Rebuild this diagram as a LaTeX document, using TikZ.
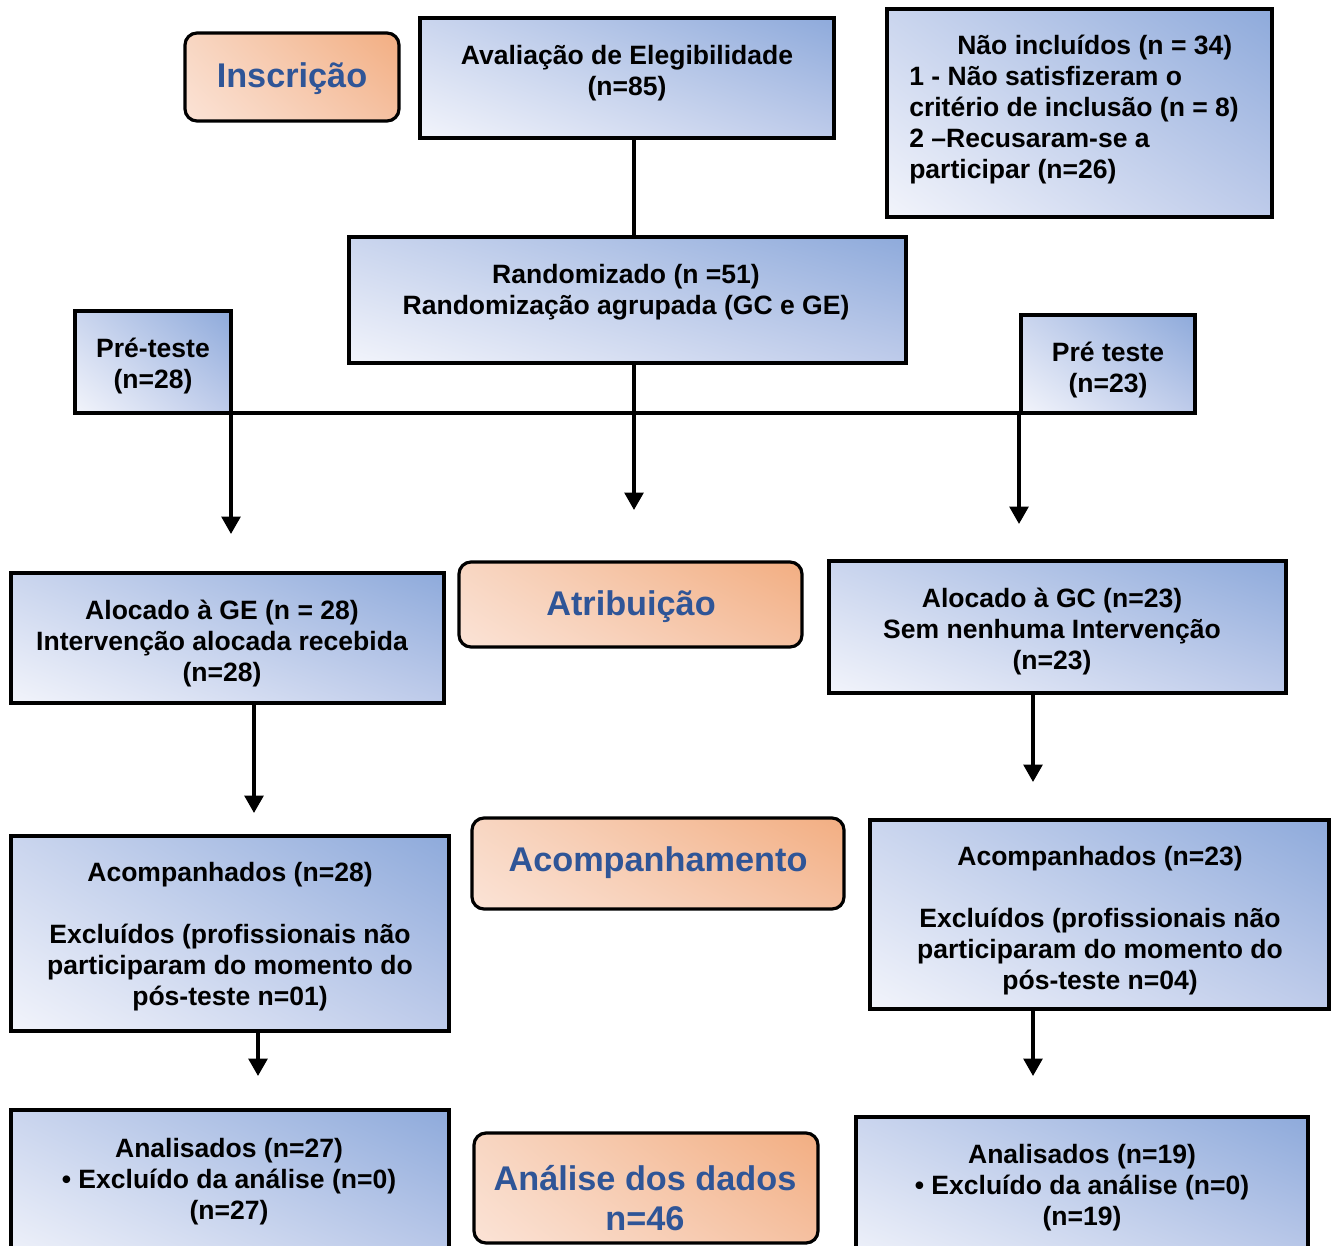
\documentclass[tikz,border=0pt]{standalone}
\usepackage{fontspec}
\setmainfont{Liberation Sans}
\usetikzlibrary{shadings,fit,arrows.meta}
\definecolor{titleblue}{HTML}{2F5597}
\tikzset{
  gbox/.style={draw=black, line width=2.4pt, inner sep=0pt, outer sep=0pt, shading=bilinear interpolation,
    lower left={rgb,255:red,242;green,244;blue,251},
    upper left={rgb,255:red,202;green,213;blue,238},
    lower right={rgb,255:red,190;green,203;blue,234},
    upper right={rgb,255:red,142;green,170;blue,219}},
  obox/.style={draw=black, line width=2.4pt, inner sep=0pt, outer sep=0pt, rounded corners=9pt, shading=bilinear interpolation,
    lower left={rgb,255:red,251;green,227;blue,214},
    upper left={rgb,255:red,248;green,214;blue,194},
    lower right={rgb,255:red,245;green,192;blue,160},
    upper right={rgb,255:red,242;green,174;blue,130}},
  txt/.style={align=center, inner sep=0pt, font=\fontsize{19.9pt}{23.25pt}\selectfont\bfseries},
  ttl/.style={align=center, inner sep=0pt, text=titleblue, font=\fontsize{25.7pt}{30pt}\selectfont\bfseries},
  conn/.style={line width=2.6pt},
  arr/.style={line width=2.6pt, -{Triangle[width=14pt,length=13pt]}}
}
\begin{document}
\begin{tikzpicture}[x=0.75pt,y=-0.75pt]
\useasboundingbox (0,0) rectangle (1337,1245);
\clip (0,0) rectangle (1337,1245);
% boxes
\node[obox, fit={(185,33) (399,121)}] (insc) {};
\node[gbox, fit={(420,18) (834,138)}] (aval) {};
\node[gbox, fit={(887,9) (1272,217)}] (naoinc) {};
\node[gbox, fit={(349,237) (906,363)}] (rand) {};
\node[gbox, fit={(75,311) (231,413)}] (preL) {};
\node[gbox, fit={(1021,315) (1195,413)}] (preR) {};
\node[gbox, fit={(11,573) (444,703)}] (geL) {};
\node[obox, fit={(459,562) (802,647)}] (atrib) {};
\node[gbox, fit={(829,561) (1286,693)}] (gcR) {};
\node[gbox, fit={(11,836) (449,1031)}] (acL) {};
\node[obox, fit={(472,818) (844,909)}] (acomp) {};
\node[gbox, fit={(870,820) (1329,1009)}] (acR) {};
\node[gbox, fit={(11,1110) (449,1270)}] (anL) {};
\node[obox, fit={(474,1133) (818,1243)}] (anal) {};
\node[gbox, fit={(856,1117) (1308,1270)}] (anR) {};
% texts
\node[ttl] (tinsc) at (292,79) {Inscrição};
\node[txt] (taval) at (627,73) {Avaliação de Elegibilidade\\(n=85)};
\node[txt, align=left, anchor=west] (tnaoinc) at (909,110) {\hspace*{36pt}Não incluídos (n = 34)\\1 - Não satisfizeram o\\critério de inclusão (n = 8)\\2 –Recusaram-se a\\participar (n=26)};
\node[txt] (trand) at (626,292) {Randomizado (n =51)\\Randomização agrupada (GC e GE)};
\node[txt] (tpreL) at (153,366) {Pré-teste\\(n=28)};
\node[txt] (tpreR) at (1108,370.5) {Pré teste\\(n=23)};
\node[ttl] (tatrib) at (631,607) {Atribuição};
\node[txt] (tgeL) at (222,643.5) {Alocado à GE (n = 28)\\Intervenção alocada recebida\\(n=28)};
\node[txt] (tgcR) at (1052,632) {Alocado à GC (n=23)\\Sem nenhuma Intervenção\\(n=23)};
\node[txt] (tacL) at (230,936.5) {Acompanhados (n=28)\\\mbox{}\\Excluídos (profissionais não\\participaram do momento do\\pós-teste n=01)};
\node[ttl] (tacomp) at (658,863) {Acompanhamento};
\node[txt] (tacR) at (1100,920.5) {Acompanhados (n=23)\\\mbox{}\\Excluídos (profissionais não\\participaram do momento do\\pós-teste n=04)};
\node[txt] (tanL) at (229,1181.5) {Analisados (n=27)\\• Excluído da análise (n=0)\\(n=27)};
\node[ttl] (tanal) at (645,1198) {Análise dos dados\\n=46};
\node[txt] (tanR) at (1082,1188) {Analisados (n=19)\\• Excluído da análise (n=0)\\(n=19)};
% connectors
\coordinate (cmid) at (634,510);
\coordinate (cleft) at (231,534);
\coordinate (cright) at (1019,524);
\coordinate (c1) at (254,813);
\coordinate (c2) at (1033,782);
\coordinate (c3) at (258,1076);
\coordinate (c4) at (1033,1076);
\draw[conn] (aval.south -| cmid) -- (rand.north -| cmid);
\draw[arr] (rand.south -| cmid) -- (cmid);
\draw[conn] (preL.south east) -- (preR.south west);
\draw[arr] (preL.south east -| cleft) -- (cleft);
\draw[arr] (preR.south -| cright) -- (cright);
\draw[arr] (geL.south -| c1) -- (c1);
\draw[arr] (gcR.south -| c2) -- (c2);
\draw[arr] (acL.south -| c3) -- (c3);
\draw[arr] (acR.south -| c4) -- (c4);
\end{tikzpicture}
\end{document}
